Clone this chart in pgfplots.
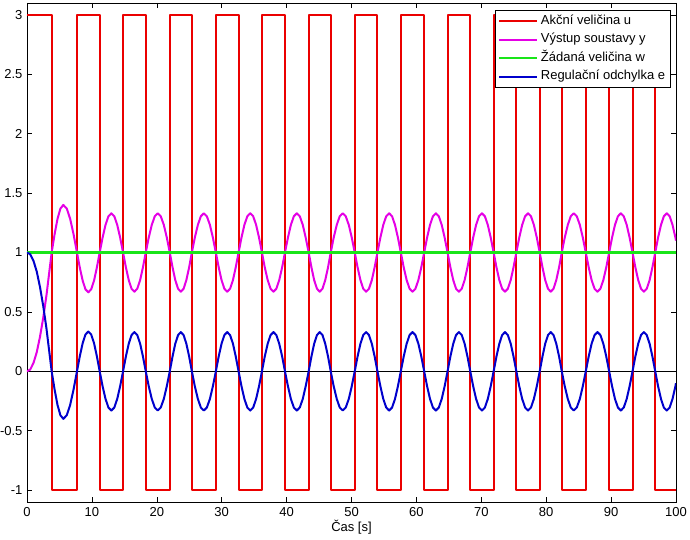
\documentclass[border=0pt]{standalone}
\usepackage{fontspec}
\setmainfont{Liberation Sans}
\usepackage{pgfplots}
\usepackage{pgfplotstable}
\pgfplotsset{compat=1.18}
\definecolor{mred}{rgb}{0.92,0,0}
\definecolor{mmag}{rgb}{0.9,0,0.9}
\definecolor{mgreen}{rgb}{0.1,0.9,0.1}
\definecolor{mblue}{rgb}{0,0,0.8}
\pgfplotstableread{
t y e
0 0 1
0.5 0.015 0.985
1.0 0.07 0.93
1.5 0.16 0.84
2.0 0.29 0.71
2.5 0.45 0.55
3.0 0.64 0.36
3.4 0.82 0.18
3.8 1 0
4.25 1.153 -0.153
4.7 1.283 -0.283
5.15 1.370 -0.370
5.6 1.400 -0.400
6.125 1.370 -0.370
6.65 1.283 -0.283
7.175 1.153 -0.153
7.7 1 0
8.14 0.872 0.128
8.58 0.763 0.237
9.01 0.690 0.310
9.45 0.665 0.335
9.89 0.690 0.310
10.33 0.763 0.237
10.76 0.872 0.128
11.2 1 0
11.65 1.126 -0.126
12.1 1.233 -0.233
12.55 1.305 -0.305
13.0 1.33 -0.33
13.45 1.305 -0.305
13.9 1.233 -0.233
14.35 1.126 -0.126
14.8 1 0
15.24 0.874 0.126
15.68 0.767 0.233
16.11 0.695 0.305
16.55 0.67 0.33
16.99 0.695 0.305
17.43 0.767 0.233
17.86 0.874 0.126
18.3 1 0
18.76 1.126 -0.126
19.23 1.233 -0.233
19.69 1.305 -0.305
20.15 1.33 -0.33
20.61 1.305 -0.305
21.08 1.233 -0.233
21.54 1.126 -0.126
22.0 1 0
22.43 0.874 0.126
22.85 0.767 0.233
23.28 0.695 0.305
23.7 0.67 0.33
24.13 0.695 0.305
24.55 0.767 0.233
24.98 0.874 0.126
25.4 1 0
25.86 1.126 -0.126
26.33 1.233 -0.233
26.79 1.305 -0.305
27.25 1.33 -0.33
27.71 1.305 -0.305
28.18 1.233 -0.233
28.64 1.126 -0.126
29.1 1 0
29.54 0.874 0.126
29.98 0.767 0.233
30.41 0.695 0.305
30.85 0.67 0.33
31.29 0.695 0.305
31.73 0.767 0.233
32.16 0.874 0.126
32.6 1 0
33.05 1.126 -0.126
33.5 1.233 -0.233
33.95 1.305 -0.305
34.4 1.33 -0.33
34.85 1.305 -0.305
35.3 1.233 -0.233
35.75 1.126 -0.126
36.2 1 0
36.64 0.874 0.126
37.09 0.767 0.233
37.53 0.695 0.305
37.98 0.67 0.33
38.42 0.695 0.305
38.86 0.767 0.233
39.31 0.874 0.126
39.75 1 0
40.21 1.126 -0.126
40.66 1.233 -0.233
41.12 1.305 -0.305
41.58 1.33 -0.33
42.03 1.305 -0.305
42.49 1.233 -0.233
42.94 1.126 -0.126
43.4 1 0
43.83 0.874 0.126
44.25 0.767 0.233
44.68 0.695 0.305
45.1 0.67 0.33
45.53 0.695 0.305
45.95 0.767 0.233
46.38 0.874 0.126
46.8 1 0
47.26 1.126 -0.126
47.73 1.233 -0.233
48.19 1.305 -0.305
48.65 1.33 -0.33
49.11 1.305 -0.305
49.58 1.233 -0.233
50.04 1.126 -0.126
50.5 1 0
50.94 0.874 0.126
51.38 0.767 0.233
51.81 0.695 0.305
52.25 0.67 0.33
52.69 0.695 0.305
53.13 0.767 0.233
53.56 0.874 0.126
54.0 1 0
54.45 1.126 -0.126
54.9 1.233 -0.233
55.35 1.305 -0.305
55.8 1.33 -0.33
56.25 1.305 -0.305
56.7 1.233 -0.233
57.15 1.126 -0.126
57.6 1 0
58.05 0.874 0.126
58.5 0.767 0.233
58.95 0.695 0.305
59.4 0.67 0.33
59.85 0.695 0.305
60.3 0.767 0.233
60.75 0.874 0.126
61.2 1 0
61.65 1.126 -0.126
62.1 1.233 -0.233
62.55 1.305 -0.305
63.0 1.33 -0.33
63.45 1.305 -0.305
63.9 1.233 -0.233
64.35 1.126 -0.126
64.8 1 0
65.24 0.874 0.126
65.68 0.767 0.233
66.11 0.695 0.305
66.55 0.67 0.33
66.99 0.695 0.305
67.43 0.767 0.233
67.86 0.874 0.126
68.3 1 0
68.75 1.126 -0.126
69.2 1.233 -0.233
69.65 1.305 -0.305
70.1 1.33 -0.33
70.55 1.305 -0.305
71.0 1.233 -0.233
71.45 1.126 -0.126
71.9 1 0
72.34 0.874 0.126
72.78 0.767 0.233
73.21 0.695 0.305
73.65 0.67 0.33
74.09 0.695 0.305
74.53 0.767 0.233
74.96 0.874 0.126
75.4 1 0
75.85 1.126 -0.126
76.3 1.233 -0.233
76.75 1.305 -0.305
77.2 1.33 -0.33
77.65 1.305 -0.305
78.1 1.233 -0.233
78.55 1.126 -0.126
79.0 1 0
79.43 0.874 0.126
79.85 0.767 0.233
80.28 0.695 0.305
80.7 0.67 0.33
81.13 0.695 0.305
81.55 0.767 0.233
81.98 0.874 0.126
82.4 1 0
82.86 1.126 -0.126
83.33 1.233 -0.233
83.79 1.305 -0.305
84.25 1.33 -0.33
84.71 1.305 -0.305
85.18 1.233 -0.233
85.64 1.126 -0.126
86.1 1 0
86.55 0.874 0.126
87.0 0.767 0.233
87.45 0.695 0.305
87.9 0.67 0.33
88.35 0.695 0.305
88.8 0.767 0.233
89.25 0.874 0.126
89.7 1 0
90.15 1.126 -0.126
90.6 1.233 -0.233
91.05 1.305 -0.305
91.5 1.33 -0.33
91.95 1.305 -0.305
92.4 1.233 -0.233
92.85 1.126 -0.126
93.3 1 0
93.74 0.874 0.126
94.18 0.767 0.233
94.61 0.695 0.305
95.05 0.67 0.33
95.49 0.695 0.305
95.93 0.767 0.233
96.36 0.874 0.126
96.8 1 0
97.24 1.126 -0.126
97.69 1.233 -0.233
98.13 1.305 -0.305
98.58 1.33 -0.33
99.02 1.305 -0.305
99.46 1.233 -0.233
99.91 1.126 -0.126
100 1.10 -0.10
}\simdata

\begin{document}
\begin{tikzpicture}
\begin{axis}[
  scale only axis, width=649pt, height=499pt,
  xmin=0, xmax=100, ymin=-1.1, ymax=3.1,
  xtick distance=10, ytick distance=0.5,
  tick align=inside, major tick length=5pt,
  axis line style={line width=0.8pt},
  every tick/.style={black, line width=0.6pt},
  /pgf/number format/assume math mode=true,
  tick label style={font=\fontsize{13}{15}\selectfont},
  xticklabel style={yshift=-2pt},
  yticklabel style={xshift=-1pt},
  xlabel={Čas [s]},
  label style={font=\fontsize{13}{15}\selectfont},
  xlabel style={yshift=3pt},
  legend cell align=left,
  legend style={at={(rel axis cs:1,1)}, anchor=north east, xshift=-5pt, yshift=-7pt,
    draw=black, line width=0.6pt, fill=white,
    font=\fontsize{13}{15}\selectfont,
    inner xsep=3pt, inner ysep=2pt, row sep=1pt,
    nodes={inner sep=2.5pt, text height=9.5pt, text depth=3pt}},
  legend image code/.code={\draw[#1, line width=2pt] (0pt,0pt) -- (38pt,0pt);},
]
\addplot[black, line width=0.8pt, forget plot] coordinates {(0,0) (100,0)};
\addplot[const plot, mred, line width=2pt, line join=round] coordinates {(0,3)(3.8,-1)(7.7,3)(11.2,-1)(14.8,3)(18.3,-1)(22.0,3)(25.4,-1)(29.1,3)(32.6,-1)(36.2,3)(39.75,-1)(43.4,3)(46.8,-1)(50.5,3)(54.0,-1)(57.6,3)(61.2,-1)(64.8,3)(68.3,-1)(71.9,3)(75.4,-1)(79.0,3)(82.4,-1)(86.1,3)(89.7,-1)(93.3,3)(96.8,-1)(100,-1)};
\addlegendentry{Akční veličina u}
\addplot[mmag, line width=2pt, line join=round] table[x=t, y=y] {\simdata};
\addlegendentry{Výstup soustavy y}
\addplot[mgreen, line width=2.4pt] coordinates {(0,1) (100,1)};
\addlegendentry{Žádaná veličina w}
\addplot[mblue, line width=2pt, line join=round] table[x=t, y=e] {\simdata};
\addlegendentry{Regulační odchylka e}
\end{axis}
\pgfresetboundingbox
\path[use as bounding box] ([shift={(-27pt,-38pt)}]current axis.south west) rectangle ([shift={(14pt,3pt)}]current axis.north east);
\end{tikzpicture}
\end{document}
